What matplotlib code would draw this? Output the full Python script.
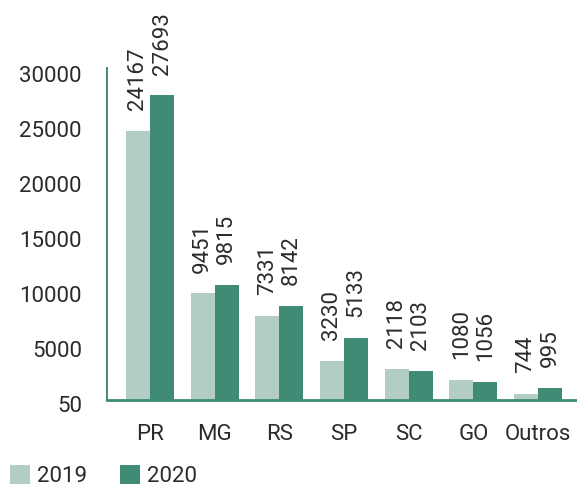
import matplotlib
matplotlib.use("Agg")
import matplotlib.pyplot as plt
import matplotlib.transforms as mtransforms
from matplotlib.patches import Patch
import numpy as np

categories = ["PR", "MG", "RS", "SP", "SC", "GO", "Outros"]
# bar heights as drawn in the reference
heights_2019 = [24450, 9700, 7650, 3550, 2800, 1800, 550]
heights_2020 = [27700, 10450, 8550, 5650, 2650, 1650, 1100]
# printed value labels
labels_2019 = ["24167", "9451", "7331", "3230", "2118", "1080", "744"]
labels_2020 = ["27693", "9815", "8142", "5133", "2103", "1056", "995"]
series_names = ["2019", "2020"]
ytick_values = [0, 5000, 10000, 15000, 20000, 25000, 30000]
ytick_labels = ["50", "5000", "10000", "15000", "20000", "25000", "30000"]

c2019 = "#b2cdc4"
c2020 = "#3f8b75"
axis_color = "#3f8b75"
text_color = "#2b2b2b"

plt.rcParams["font.family"] = ["Roboto", "DejaVu Sans"]
fs = 16

fig = plt.figure(figsize=(5.77, 4.90), dpi=100)
ax = fig.add_axes([107/577, 90/490, 470/577, 332/490])

x = np.arange(len(categories))
w = 0.372
b1 = ax.bar(x - w/2, heights_2019, width=w, color=c2019, zorder=2)
b2 = ax.bar(x + w/2, heights_2020, width=w, color=c2020, zorder=2)

for bars, labs in ((b1, labels_2019), (b2, labels_2020)):
    for rect, lab in zip(bars, labs):
        ax.annotate(lab, (rect.get_x() + rect.get_width()/2, rect.get_height()),
                    xytext=(0, 15), textcoords="offset points",
                    rotation=90, ha="center", va="bottom",
                    fontsize=fs, color=text_color, annotation_clip=False)

ax.set_xlim(-0.665, 6.603)
ax.set_ylim(0, 30200)
ax.set_xticks(x)
ax.set_xticklabels(categories, fontsize=fs, color=text_color)
ax.set_yticks(ytick_values)
ax.set_yticklabels(ytick_labels, fontsize=fs, color=text_color)
ax.tick_params(axis="both", length=0)
ax.tick_params(axis="y", pad=18)
ax.tick_params(axis="x", pad=17)
offset = mtransforms.ScaledTranslation(0, -4/100, fig.dpi_scale_trans)
for lbl in ax.get_yticklabels():
    lbl.set_transform(lbl.get_transform() + offset)

for s in ["top", "right"]:
    ax.spines[s].set_visible(False)
ax.spines["left"].set_color(axis_color)
ax.spines["left"].set_linewidth(1.4)
ax.spines["bottom"].set_color(axis_color)
ax.spines["bottom"].set_linewidth(2.0)
ax.set_facecolor("white")

handles = [Patch(facecolor=c2019, edgecolor="none"), Patch(facecolor=c2020, edgecolor="none")]
leg = fig.legend(handles, series_names, loc="lower left", bbox_to_anchor=(10/577, 3/490),
                 ncol=2, frameon=False, fontsize=fs, handlelength=0.9, handleheight=0.9,
                 handletextpad=0.3, columnspacing=1.5, borderpad=0.0, borderaxespad=0.0)
for t in leg.get_texts():
    t.set_color(text_color)

fig.savefig("out.png", dpi=100)
